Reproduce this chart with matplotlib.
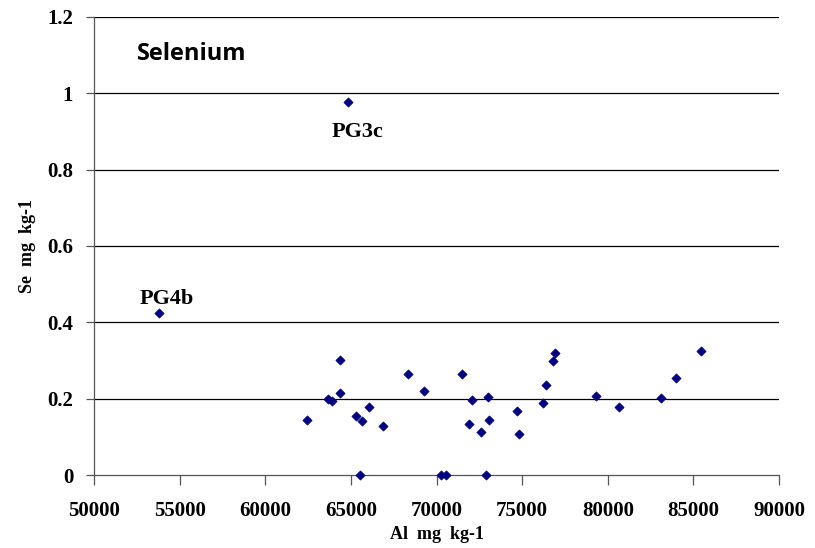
"""Scatter of Se against Al concentration (Selenium panel)."""

import matplotlib

matplotlib.use("Agg")
import matplotlib.pyplot as plt

al_mg_kg = [
    53815, 64849,
    62442, 63657, 63869, 64361, 64361, 65277, 65653, 66064, 65553, 66885,
    68352, 69268, 70289, 70559, 71463, 72067, 71874, 72578, 72989, 73065,
    72871, 74691, 74808, 76194, 76393, 76781, 76898, 79304, 80677, 83120,
    83982, 85431,
]
se_mg_kg = [
    0.425, 0.976,
    0.145, 0.200, 0.194, 0.301, 0.215, 0.155, 0.142, 0.177, 0.0, 0.128,
    0.264, 0.219, 0.0, 0.0, 0.264, 0.197, 0.134, 0.112, 0.205, 0.143,
    0.0, 0.169, 0.108, 0.189, 0.236, 0.300, 0.320, 0.206, 0.179, 0.201,
    0.255, 0.326,
]
labels = {"PG4b": (53815, 0.425), "PG3c": (64849, 0.976)}
x_ticks = [50000, 55000, 60000, 65000, 70000, 75000, 80000, 85000, 90000]
y_ticks = [0, 0.2, 0.4, 0.6, 0.8, 1.0, 1.2]
y_tick_labels = ["0", "0.2", "0.4", "0.6", "0.8", "1", "1.2"]

_SERIF = ["Liberation Serif", "DejaVu Serif"]

fig = plt.figure(figsize=(8.15, 5.48), dpi=100)
ax = fig.add_axes([0.1153, 0.1332, 0.8406, 0.8358])

for y in y_ticks[1:]:
    ax.axhline(y, color="black", linewidth=0.9, zorder=1)

ax.scatter(al_mg_kg, se_mg_kg, marker="D", s=22, color="#000080",
           edgecolors="#000080", linewidths=0.5, zorder=3, clip_on=False)

ax.annotate("PG3c", labels["PG3c"], xytext=(7, -21), textcoords="offset points",
            ha="center", va="center", fontsize=16, fontweight="bold", family=_SERIF)
ax.annotate("PG4b", labels["PG4b"], xytext=(5, 10), textcoords="offset points",
            ha="center", va="center", fontsize=16, fontweight="bold", family=_SERIF)

ax.text(0.063, 0.92, "Selenium", transform=ax.transAxes, fontsize=17,
        fontweight="bold", family=["Open Sans", "DejaVu Sans"], ha="left", va="center")

ax.set_xlim(50000, 90000)
ax.set_ylim(0, 1.2)
ax.set_xticks(x_ticks)
ax.set_xticklabels([str(v) for v in x_ticks])
ax.set_yticks(y_ticks)
ax.set_yticklabels(y_tick_labels)
for lbl in ax.get_xticklabels() + ax.get_yticklabels():
    lbl.set_fontfamily(_SERIF)
    lbl.set_fontweight("bold")
    lbl.set_fontsize(15)

ax.tick_params(axis="x", direction="out", length=7, width=0.9, color="#555555", pad=12)
ax.tick_params(axis="y", direction="out", length=6, width=0.9, color="#555555", pad=9)

for side in ("top", "right"):
    ax.spines[side].set_visible(False)
ax.spines["left"].set_color("#555555")
ax.spines["bottom"].set_color("#555555")
ax.spines["left"].set_linewidth(0.9)
ax.spines["bottom"].set_linewidth(0.9)

ax.set_xlabel("Al  mg  kg-1", fontsize=13, fontweight="bold", family=_SERIF, labelpad=3)
ax.set_ylabel("Se  mg  kg-1", fontsize=13, fontweight="bold", family=_SERIF, labelpad=8)

fig.savefig("out.png", dpi=100)
